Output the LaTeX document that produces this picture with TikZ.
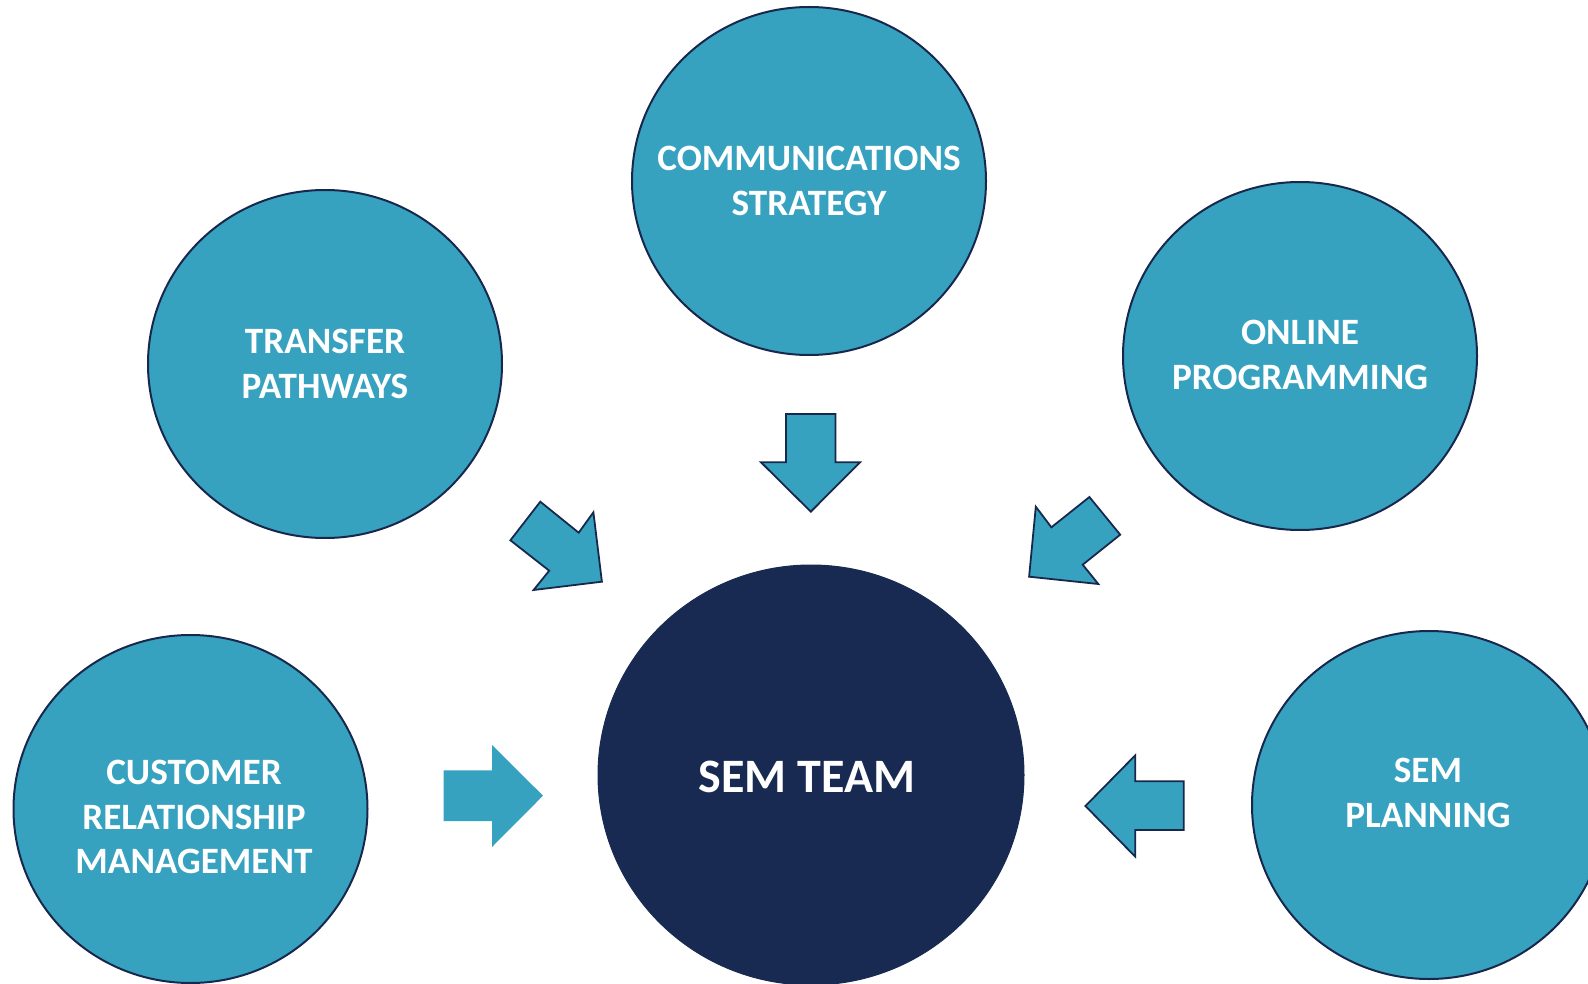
\documentclass[tikz,border=0pt]{standalone}
\usepackage{fontspec}
\setmainfont{Carlito}
\usetikzlibrary{shapes.geometric,calc}
\definecolor{teal}{RGB}{54,162,192}
\definecolor{navy}{RGB}{24,42,81}
\definecolor{edge}{RGB}{24,40,76}
\tikzset{
  bub/.style={ellipse,fill=teal,draw=edge,line width=2pt,minimum width=354pt,minimum height=348pt,inner sep=0pt},
  core/.style={ellipse,fill=navy,draw=navy,line width=1pt,minimum width=426pt,minimum height=420pt,inner sep=0pt},
  txt/.style={text=white,font=\bfseries\fontsize{37.2pt}{44.6pt}\selectfont,align=center,inner sep=0pt},
  bigtxt/.style={text=white,font=\bfseries\fontsize{48pt}{56pt}\selectfont,align=center,inner sep=0pt},
  blockarrow/.style={fill=teal,draw=edge,line width=1.8pt,line join=miter},
  blockarrownb/.style={fill=teal,draw=none}
}
\begin{document}
\begin{tikzpicture}[x=1pt,y=-1pt]
\useasboundingbox (0,0) rectangle (1588,984);
\clip (0,0) rectangle (1588,984);
% bubbles
\node[bub] (comm) at (809,181) {};
\node[txt] (commT) at (809,181) {COMMUNICATIONS\\STRATEGY};
\node[bub] (trans) at (325,364) {};
\node[txt] (transT) at (325,364) {TRANSFER\\PATHWAYS};
\node[bub] (online) at (1300,356) {};
\node[txt] (onlineT) at (1300,355) {ONLINE\\PROGRAMMING};
\node[bub] (cust) at (190.5,809) {};
\node[txt] (custT) at (194,817) {CUSTOMER\\RELATIONSHIP\\MANAGEMENT};
\node[bub] (plan) at (1429,805) {};
\node[txt] (planT) at (1428,793) {SEM\\PLANNING};
\node[core] (team) at (811,775) {};
\node[bigtxt] (teamT) at (807,777) {SEM TEAM};
% arrows
\draw[blockarrow] (786,414) -- (835.5,414) -- (835.5,462.3) -- (860,462.3) -- (810.8,511.7) -- (761,462.3) -- (786,462.3) -- cycle;
\draw[blockarrow] (540.3,501.7) -- (578.7,532.7) -- (593.4,512.3) -- (601.9,581.7) -- (533.6,590) -- (549.2,570.7) -- (510.4,540.3) -- cycle;
\draw[blockarrow] (1089.4,497) -- (1051.4,527.3) -- (1035.8,506.7) -- (1029.1,576.7) -- (1098.3,584) -- (1082.7,564.7) -- (1120.2,534.7) -- cycle;
\fill[blockarrownb] (443.6,770.3) -- (492,770.3) -- (492,745) -- (543,795.7) -- (492,847) -- (492,821) -- (443.6,821) -- cycle;
\draw[blockarrow] (1183.8,781.3) -- (1135.3,781.3) -- (1135.3,755.3) -- (1085.4,806) -- (1135.3,856.7) -- (1135.3,830) -- (1183.8,830) -- cycle;
\end{tikzpicture}
\end{document}
